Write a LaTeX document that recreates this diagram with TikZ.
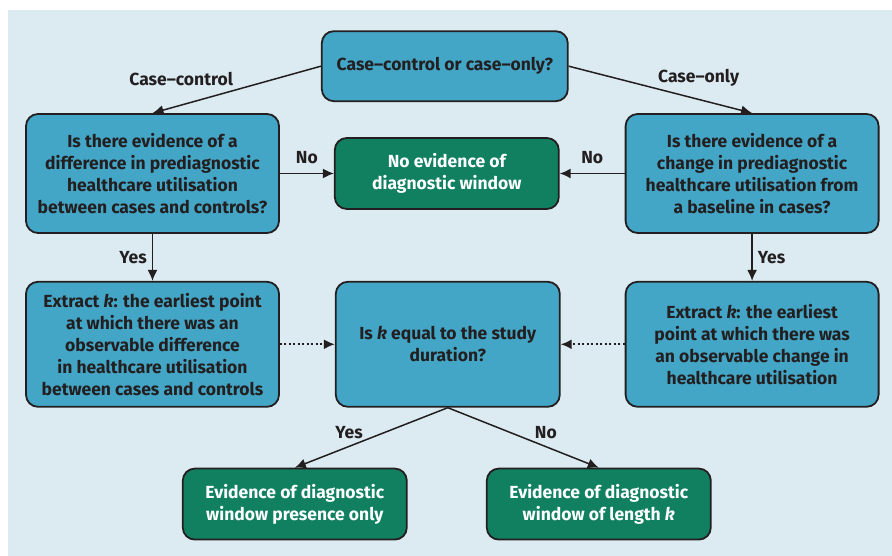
\documentclass[tikz,border=0pt]{standalone}
\usepackage{fontspec}
\setmainfont{Fira Sans}
\usepackage{xcolor}
\usepackage{tikz}
\usetikzlibrary{shapes,arrows.meta,positioning}

\definecolor{panelbg}{RGB}{220,235,242}
\definecolor{boxblue}{RGB}{67,166,198}
\definecolor{boxgreen}{RGB}{16,128,96}
\definecolor{inkdark}{RGB}{35,31,32}

\begin{document}
\begin{tikzpicture}[x=1pt, y=1pt, auto, thick, font=\bfseries\fontsize{17.5}{22}\selectfont]
        \tikzstyle{block} = [rectangle, draw=inkdark, line width=1.8pt, fill=boxblue, text=inkdark, align=center, rounded corners=12pt, minimum width=253pt, minimum height=119pt, inner sep=1pt]
        \tikzstyle{result} = [block, fill=boxgreen, text=white, minimum width=224pt, minimum height=71pt]
        \tikzstyle{line} = [draw=inkdark, line width=1.5pt, -{Latex[length=11pt,width=10pt]}]
        \tikzstyle{lbl} = [text=inkdark, inner sep=3pt]

        \useasboundingbox (0,0) rectangle (892,556);
        \fill[panelbg] (8,0) rectangle (892,546);

        \node [block] (leftq) at (152.5,382.5) {Is there evidence of a\\ difference in prediagnostic\\ healthcare utilisation\\ between cases and controls?};
        \node [result, right=54pt of leftq] (noev) {No evidence of\\ diagnostic window};
        \node [block, right=65pt of noev] (rightq) {Is there evidence of a\\ change in prediagnostic\\ healthcare utilisation from\\ a baseline in cases?};
        \node [block, minimum width=246pt, minimum height=70pt, above=35pt of noev, xshift=-2pt] (start) {Case--control or case--only?};
        \node [block, minimum height=125pt, below=47pt of leftq] (lextract) {Extract \textit{k}: the earliest point\\ at which there was an\\ observable difference\\ in healthcare utilisation\\ between cases and controls};
        \node [block, minimum width=224pt, minimum height=125pt, below=71pt of noev, xshift=1pt] (kcheck) {Is \textit{k} equal to the study\\ duration?};
        \node [block, minimum height=125pt, below=47pt of rightq] (rextract) {Extract \textit{k}: the earliest\\ point at which there was\\ an observable change in\\ healthcare utilisation};
        \node [result, below=60pt of kcheck, xshift=-153pt] (presence) {Evidence of diagnostic\\ window presence only};
        \node [result, below=60pt of kcheck, xshift=151pt] (length) {Evidence of diagnostic\\ window of length \textit{k}};

        \path [line] (start.west) -- node[lbl, above left] {Case--control} (leftq.north);
        \path [line] (start.east) -- node[lbl, above right, xshift=-6pt] {Case--only} (rightq.north);
        \path [line] (leftq) -- node[lbl, above=6pt] {No} (noev);
        \path [line] (rightq) -- node[lbl, above=6pt, swap] {No} (noev);
        \path [line] (leftq) -- node[lbl, left, xshift=-2pt] {Yes} (lextract);
        \path [line] (rightq) -- node[lbl, right, xshift=2pt] {Yes} (rextract);
        \path [line, line width=2pt, dash pattern=on 2pt off 2.5pt] (lextract) -- (kcheck);
        \path [line, line width=2pt, dash pattern=on 2pt off 2.5pt] (rextract) -- (kcheck);
        \path [line] (kcheck.south) -- node[lbl, pos=0.42, left=17pt] {Yes} (presence.north);
        \path [line] (kcheck.south) -- node[lbl, pos=0.42, right=20pt] {No} (length.north);
    \end{tikzpicture}
\end{document}
